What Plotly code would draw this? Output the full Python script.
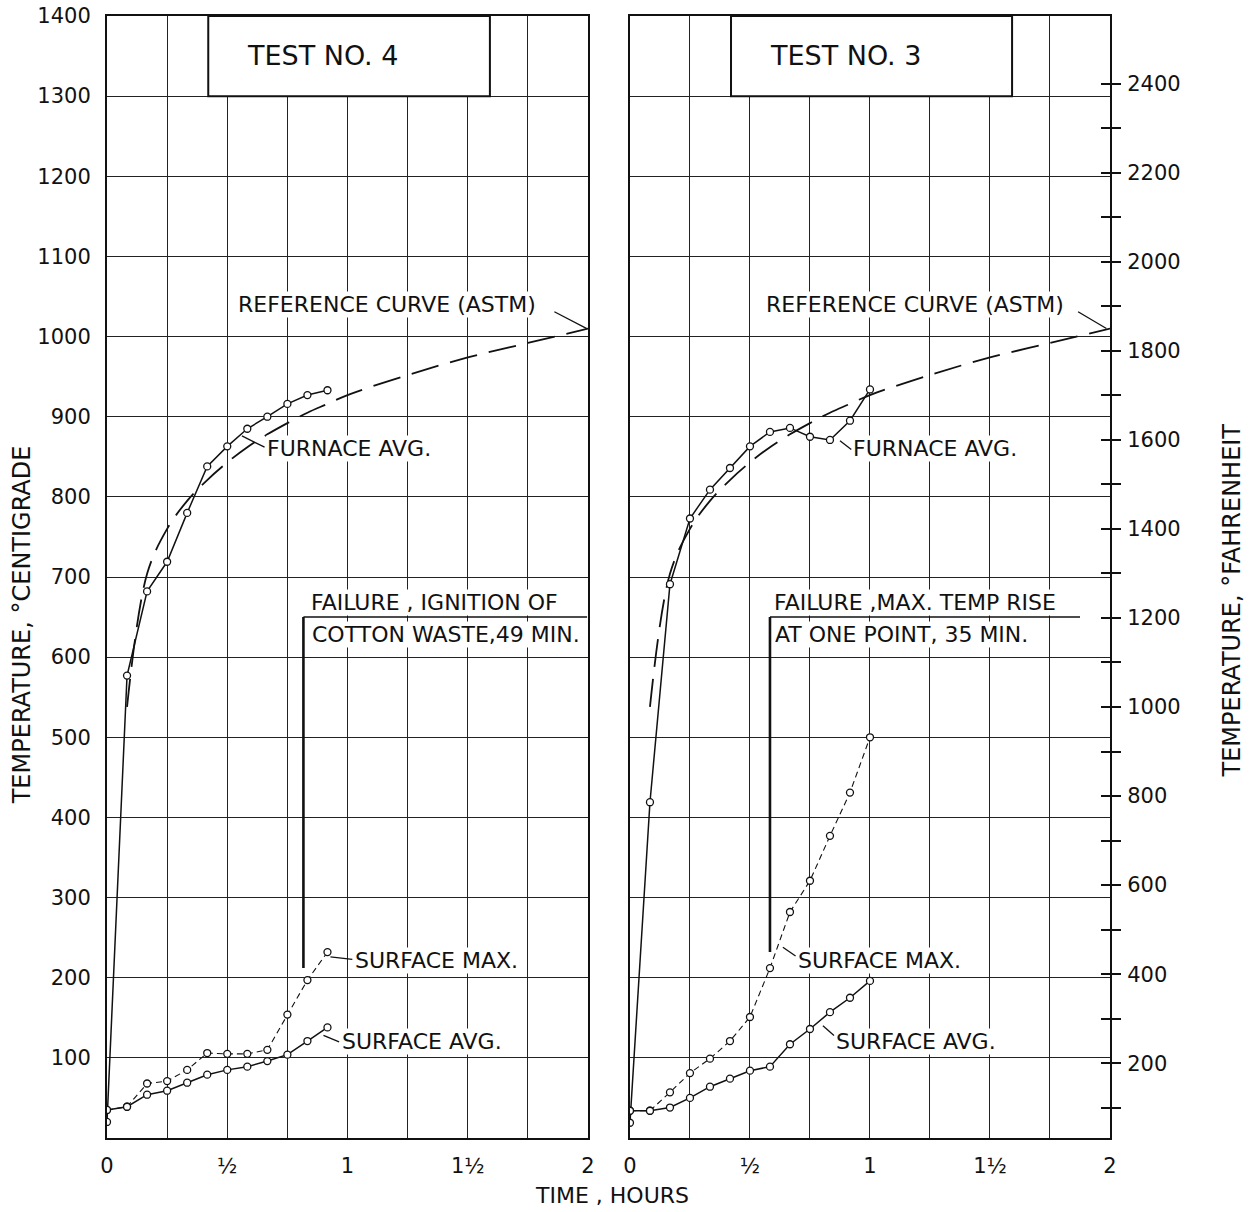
import plotly.graph_objects as go

# ---------------- data ----------------
# time in minutes
t4_furnace_min = [0, 5, 10, 15, 20, 25, 30, 35, 40, 45, 50, 55]
t4_furnace = [20, 577, 682, 719, 780, 838, 863, 885, 900, 916, 927, 933]
t4_surf_min = [0, 5, 10, 15, 20, 25, 30, 35, 40, 45, 50, 55]
t4_surf_max = [35, 39, 68, 71, 85, 106, 105, 105, 110, 154, 197, 232]
t4_surf_avg = [35, 39, 54, 59, 69, 79, 85, 89, 96, 104, 121, 138]

t3_furnace_min = [0, 5, 10, 15, 20, 25, 30, 35, 40, 45, 50, 55, 60]
t3_furnace = [19, 419, 691, 773, 809, 836, 863, 881, 886, 875, 871, 895, 934]
t3_surf_min = [0, 5, 10, 15, 20, 25, 30, 35, 40, 45, 50, 55, 60]
t3_surf_max = [34, 34, 57, 81, 99, 121, 151, 212, 282, 321, 377, 431, 500]
t3_surf_avg = [34, 34, 38, 50, 64, 74, 84, 89, 117, 136, 157, 175, 196]

ref_min = [5, 10, 15, 20, 25, 30, 35, 40, 45, 50, 55, 60, 75, 90, 105, 120]
ref_curve = [538, 704, 760, 795, 821, 843, 862, 878, 892, 905, 916, 927, 952, 974, 992, 1010]

x_tick_vals = [i * 0.25 for i in range(9)]
x_tick_text = ["0", "", "½", "", "1", "", "1½", "", "2"]
y_c_ticks = list(range(0, 1401, 100))
y_f_ticks = list(range(100, 2401, 100))

FONT = "DejaVu Sans"
BLACK = "#111111"


def hrs(mins):
    return [m / 60.0 for m in mins]


fig = go.Figure()

panels = [
    ("x", "y", t4_furnace_min, t4_furnace, t4_surf_min, t4_surf_max, t4_surf_avg),
    ("x2", "y2", t3_furnace_min, t3_furnace, t3_surf_min, t3_surf_max, t3_surf_avg),
]

marker = dict(symbol="circle", size=7, color="white", line=dict(color=BLACK, width=1.3))

for xa, ya, fm, fv, sm, smax, savg in panels:
    fig.add_trace(go.Scatter(x=hrs(ref_min), y=ref_curve, xaxis=xa, yaxis=ya, mode="lines",
                             line=dict(color=BLACK, width=1.8, dash="28px,12px", shape="spline"),
                             showlegend=False, hoverinfo="skip"))
    fig.add_trace(go.Scatter(x=hrs(fm), y=fv, xaxis=xa, yaxis=ya, mode="lines+markers",
                             line=dict(color=BLACK, width=1.5), marker=marker, showlegend=False))
    fig.add_trace(go.Scatter(x=hrs(sm), y=smax, xaxis=xa, yaxis=ya, mode="lines+markers",
                             line=dict(color=BLACK, width=1.1, dash="6px,4px"), marker=marker,
                             showlegend=False))
    fig.add_trace(go.Scatter(x=hrs(sm), y=savg, xaxis=xa, yaxis=ya, mode="lines+markers",
                             line=dict(color=BLACK, width=1.5), marker=marker, showlegend=False))

# dummy traces so the Fahrenheit axes render
for ya in ["y3", "y4"]:
    fig.add_trace(go.Scatter(x=[None], y=[None], xaxis="x2", yaxis=ya, mode="markers",
                             showlegend=False, hoverinfo="skip"))

tick_font = dict(family=FONT, size=21, color=BLACK)

xcommon = dict(range=[0, 2], tickvals=x_tick_vals, ticktext=x_tick_text,
               showgrid=True, gridcolor="#222222", gridwidth=1.2, zeroline=False,
               showline=True, linecolor=BLACK, linewidth=2, mirror=True, ticks="",
               tickfont=tick_font, ticklabelstandoff=8, automargin=False)
ycommon = dict(range=[0, 1400], tickvals=y_c_ticks, showgrid=True, gridcolor="#222222",
               gridwidth=1.2, zeroline=False, showline=True, linecolor=BLACK, linewidth=2,
               mirror=True, ticks="", tickfont=tick_font, automargin=False)

f_lo = 0 * 1.8 + 32
f_hi = 1400 * 1.8 + 32
f_text = [str(v) if v % 200 == 0 else "" for v in y_f_ticks]

fig.update_layout(
    width=1254, height=1212,
    margin=dict(l=107, r=144, t=16, b=74, autoexpand=False),
    paper_bgcolor="white", plot_bgcolor="white",
    font=dict(family=FONT, color=BLACK),
    xaxis=dict(domain=[0, 0.4796], anchor="y", **xcommon),
    yaxis=dict(anchor="x", ticktext=[""] + [str(v) for v in y_c_ticks[1:]],
               ticklabelstandoff=10, **ycommon),
    xaxis2=dict(domain=[0.5214, 1.0], anchor="y2", **xcommon),
    yaxis2=dict(anchor="x2", showticklabels=False, **ycommon),
    yaxis3=dict(anchor="x2", overlaying="y2", side="right", range=[f_lo, f_hi],
                tickvals=y_f_ticks, ticktext=f_text, ticks="outside", ticklen=10,
                tickwidth=1.5, tickcolor=BLACK, showgrid=False, zeroline=False,
                showline=False, tickfont=tick_font, ticklabelstandoff=2, automargin=False),
    yaxis4=dict(anchor="x2", overlaying="y2", side="right", range=[f_lo, f_hi],
                tickvals=y_f_ticks, showticklabels=False, ticks="inside", ticklen=9,
                tickwidth=1.5, tickcolor=BLACK, showgrid=False, zeroline=False,
                showline=False, automargin=False),
)

shapes = []
annotations = []


def seg(xa, ya, x0, y0, x1, y1, w=1.3):
    shapes.append(dict(type="line", xref=xa, yref=ya, x0=x0, y0=y0, x1=x1, y1=y1,
                       line=dict(color=BLACK, width=w)))


def label(xa, ya, x, y, text, size=22, xanchor="left"):
    annotations.append(dict(xref=xa, yref=ya, x=x, y=y, text=text, showarrow=False,
                            xanchor=xanchor, yanchor="middle",
                            font=dict(family=FONT, size=size, color=BLACK),
                            bgcolor="white", borderpad=0))


# title boxes
for xa, ya, name in [("x", "y", "TEST NO. 4"), ("x2", "y2", "TEST NO. 3")]:
    shapes.append(dict(type="rect", xref=xa, yref=ya, x0=0.421, x1=1.592, y0=1300, y1=1400,
                       fillcolor="white", line=dict(color=BLACK, width=2), layer="above"))
    annotations.append(dict(xref=xa, yref=ya, x=0.575, y=1351, text=name, showarrow=False,
                            xanchor="left", yanchor="middle",
                            font=dict(family=FONT, size=27, color=BLACK)))

# Test 4 labels
label("x", "y", 0.542, 1040, "REFERENCE CURVE (ASTM)")
seg("x", "y", 1.86, 1031, 1.995, 1010)
label("x", "y", 0.66, 860, "FURNACE AVG.")
seg("x", "y", 0.561, 876, 0.655, 862)
label("x", "y", 1.025, 221, "SURFACE MAX.")
seg("x", "y", 0.929, 226, 1.02, 223)
label("x", "y", 0.972, 120, "SURFACE AVG.")
seg("x", "y", 0.9, 128, 0.965, 120)
seg("x", "y", 49 / 60, 212, 49 / 60, 650, w=2.6)
seg("x", "y", 49 / 60, 650, 1.996, 650, w=1.6)
label("x", "y", 0.846, 668, "FAILURE , IGNITION OF")
label("x", "y", 0.85, 628, "COTTON WASTE,49 MIN.")

# Test 3 labels
label("x2", "y2", 0.5625, 1040, "REFERENCE CURVE (ASTM)")
seg("x2", "y2", 1.867, 1031, 1.985, 1010)
label("x2", "y2", 0.925, 860, "FURNACE AVG.")
seg("x2", "y2", 0.875, 870, 0.922, 859)
label("x2", "y2", 0.698, 221, "SURFACE MAX.")
seg("x2", "y2", 0.637, 238, 0.69, 227)
label("x2", "y2", 0.855, 120, "SURFACE AVG.")
seg("x2", "y2", 0.804, 140, 0.85, 128)
seg("x2", "y2", 35 / 60, 232, 35 / 60, 650, w=2.6)
seg("x2", "y2", 35 / 60, 650, 1.875, 650, w=1.6)
label("x2", "y2", 0.597, 668, "FAILURE ,MAX. TEMP RISE")
label("x2", "y2", 0.6, 628, "AT ONE POINT, 35 MIN.")

# axis titles
annotations.append(dict(xref="paper", yref="paper", x=0.5035, y=-0.051, text="TIME , HOURS",
                        showarrow=False, xanchor="center", yanchor="middle",
                        font=dict(family=FONT, size=22, color=BLACK)))
annotations.append(dict(xref="paper", yref="paper", x=-0.0847, y=0.457,
                        text="TEMPERATURE, °CENTIGRADE", textangle=-90, showarrow=False,
                        xanchor="center", yanchor="middle",
                        font=dict(family=FONT, size=24, color=BLACK)))
annotations.append(dict(xref="paper", yref="paper", x=1.1216, y=0.479,
                        text="TEMPERATURE, °FAHRENHEIT", textangle=-90, showarrow=False,
                        xanchor="center", yanchor="middle",
                        font=dict(family=FONT, size=24, color=BLACK)))

fig.update_layout(shapes=shapes, annotations=annotations)

fig.write_html("out.html", config={"displayModeBar": False},
               post_script="document.body.style.margin='0';document.body.style.padding='0';")
